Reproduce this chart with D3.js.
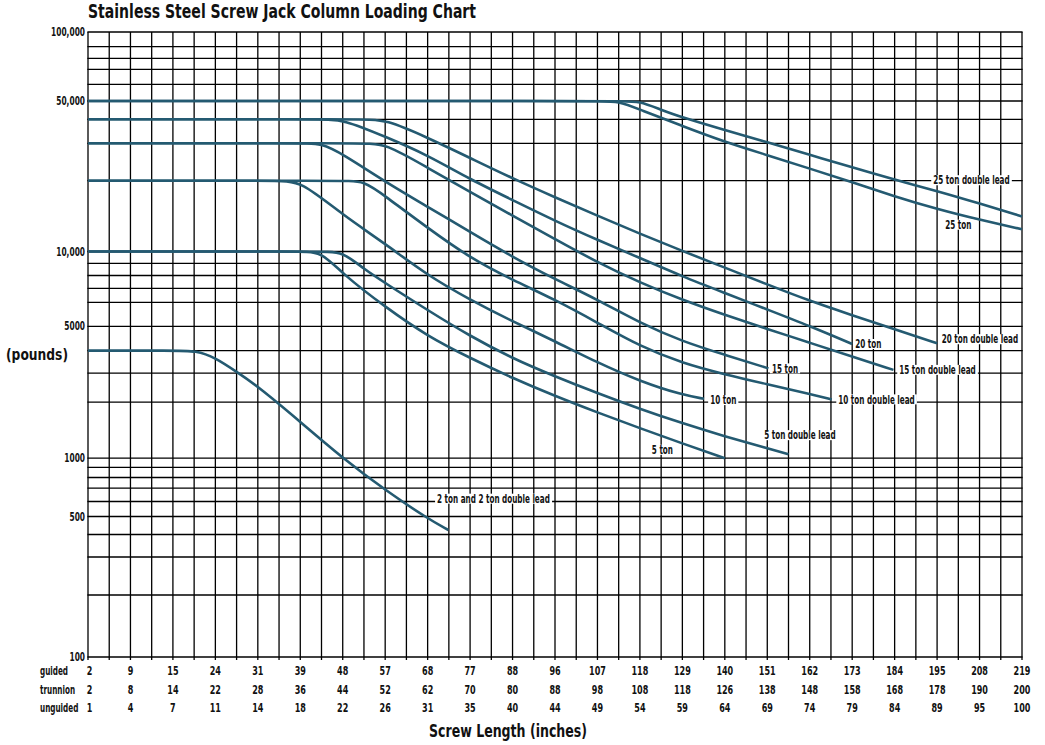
<!DOCTYPE html>
<html>
<head>
<meta charset="utf-8">
<title>Stainless Steel Screw Jack Column Loading Chart</title>
<script src="https://cdn.jsdelivr.net/npm/d3@7"></script>
<style>
  body { margin: 0; background: #fff; }
  svg text { font-family: "Liberation Sans Narrow", "DejaVu Sans Condensed", "Arial Narrow", sans-serif; fill: #111; }
</style>
</head>
<body>
<svg id="chart" width="1045" height="745"></svg>
<script>
// x axis rows: screw length (inches), one printed value every two grid columns
var guided   = [2, 9, 15, 24, 31, 39, 48, 57, 68, 77, 88, 96, 107, 118, 129, 140, 151, 162, 173, 184, 195, 208, 219];
var trunnion = [2, 8, 14, 22, 28, 36, 44, 52, 62, 70, 80, 88, 98, 108, 118, 126, 138, 148, 158, 168, 178, 190, 200];
var unguided = [1, 4, 7, 11, 14, 18, 22, 26, 31, 35, 40, 44, 49, 54, 59, 64, 69, 74, 79, 84, 89, 95, 100];
var rowNames = ["guided", "trunnion", "unguided"];

// y grid (pounds) and the labelled ticks
var yGrid = [100, 200, 300, 400, 500, 600, 700, 800, 900, 1000,
             2000, 3000, 4000, 5000, 6000, 7000, 8000, 9000, 10000,
             20000, 30000, 40000, 50000, 60000, 70000, 80000, 90000, 100000];
var yLabels = [100, 500, 1000, 5000, 10000, 50000, 100000];

// curves: guided screw length (in) -> load (lb)
var ton2Len    = [2, 15, 20, 24, 27.5, 31, 39, 48, 57, 68, 72.4];
var ton2Lbs    = [4000, 4000, 4000, 3650, 3050, 2500, 1570, 1000, 685, 487, 423];
var ton5Len    = [2, 39, 43.5, 48, 57, 68, 77, 88, 96, 107, 118, 129, 140];
var ton5Lbs    = [10000, 10000, 10000, 8100, 5790, 4560, 3640, 2800, 2180, 1760, 1450, 1200, 1000];
var ton5DLLen  = [2, 43.5, 48, 52.5, 57, 68, 77, 88, 96, 107, 118, 129, 140, 151, 156.5];
var ton5DLLbs  = [10000, 10000, 10000, 8500, 7400, 5650, 4570, 3620, 2870, 2270, 1840, 1540, 1310, 1130, 1050];
var ton10Len   = [2, 35, 39, 48, 57, 68, 77, 88, 96, 107, 118, 129, 134.6];
var ton10Lbs   = [20000, 20000, 20000, 14300, 10800, 8000, 6170, 5190, 4360, 3430, 2680, 2210, 2100];
var ton10DLLen = [2, 48, 52.5, 57, 68, 77, 88, 96, 107, 118, 129, 140, 151, 162, 167.7];
var ton10DLLbs = [20000, 20000, 20000, 17200, 12600, 9440, 7630, 6180, 5140, 4160, 3410, 2950, 2570, 2240, 2080];
var ton15Len   = [2, 39, 43.5, 48, 57, 68, 77, 88, 96, 107, 118, 129, 140, 151.3];
var ton15Lbs   = [30000, 30000, 30000, 26700, 19800, 15500, 12100, 9520, 7700, 6180, 5130, 4350, 3790, 3190];
var ton15DLLen = [2, 52.5, 57, 68, 77, 88, 96, 107, 118, 129, 140, 151, 162, 173, 183.7];
var ton15DLLbs = [30000, 30000, 30000, 23000, 17900, 14200, 11300, 9070, 7430, 6160, 5450, 4880, 4300, 3700, 3130];
var ton20Len   = [2, 43.5, 48, 57, 68, 77, 88, 96, 107, 118, 129, 140, 151, 162, 173];
var ton20Lbs   = [40000, 40000, 40000, 32500, 26400, 20300, 16550, 13500, 11200, 9440, 7920, 6650, 5680, 5010, 4250];
var ton20DLLen = [2, 52.5, 57, 68, 77, 88, 96, 107, 118, 129, 140, 151, 162, 173, 184, 195];
var ton20DLLbs = [40000, 40000, 40000, 32100, 25600, 20500, 17000, 14200, 11900, 10050, 8630, 7290, 6090, 5440, 4860, 4280];
var ton25Len   = [2, 107, 112.5, 118, 129, 140, 151, 162, 173, 184, 195, 208, 219];
var ton25Lbs   = [50000, 50000, 50000, 45000, 36900, 30500, 26400, 22800, 19700, 17150, 15150, 13650, 12430];
var ton25DLLen = [2, 112.5, 118, 123.5, 129, 140, 151, 162, 173, 184, 195, 208, 219];
var ton25DLLbs = [50000, 50000, 50000, 44800, 40900, 35100, 30400, 26500, 23100, 20200, 18100, 16000, 14100];

// curve labels: text, guided length at text start, load at text middle
var labelText = ["2 ton and 2 ton double lead", "5 ton", "5 ton double lead", "10 ton", "10 ton double lead",
                 "15 ton", "15 ton double lead", "20 ton", "20 ton double lead", "25 ton", "25 ton double lead"];
var labelLen  = [70, 121.1, 150.2, 136.2, 169.4, 152.2, 185.2, 173.8, 196.4, 197.5, 194];
var labelLbs  = [620, 1110, 1330, 2060, 2080, 3190, 3130, 4250, 4440, 13000, 20100];

var series = [
	[ton2Len, ton2Lbs], [ton5Len, ton5Lbs], [ton5DLLen, ton5DLLbs],
	[ton10Len, ton10Lbs], [ton10DLLen, ton10DLLbs], [ton15Len, ton15Lbs], [ton15DLLen, ton15DLLbs],
	[ton20Len, ton20Lbs], [ton20DLLen, ton20DLLbs], [ton25Len, ton25Lbs], [ton25DLLen, ton25DLLbs]
].map(function(s) { return s[0].map(function(d, i) { return [d, s[1][i]]; }); });

// layout
const plotLeft = 88, plotRight = 1022, plotTop = 32, plotBottom = 657;
const curveColor = "#245a71";

var svg = d3.select("#chart");

// the print uses a condensed face; narrow the local one around its anchor
function squeeze(sel, k) {
	sel.each(function() {
		var t = d3.select(this);
		var tx = +t.attr("x"), ty = +t.attr("y");
		t.attr("x", 0).attr("y", 0)
			.attr("transform", "translate(" + tx + "," + ty + ") scale(" + k + ",1)");
	});
}

// grid columns, two per printed length value
var colScale = d3.scaleLinear().domain([0, 44]).range([plotLeft, plotRight]);
var x = d3.scaleLinear()
	.domain(guided)
	.range(guided.map(function(d, i) { return colScale(2 * i); }));

// the printed log paper is not evenly spaced, so the log scale is
// pinned to where each grid line sits on the sheet
var yGridPx = [plotBottom, 595, 557, 534.5, 516.5, 501.5, 488.2, 477.5, 467.3, 458.2,
               402.2, 373.2, 350.6, 326.3, 302.3, 288.3, 275.5, 263.3, 251.5,
               180.7, 143.3, 119.3, 101, 84.3, 69.3, 58.3, 46.7, plotTop];
var y = d3.scaleLog().domain(yGrid).range(yGridPx);

// title
svg.append("text")
	.attr("x", plotLeft).attr("y", 17.5)
	.attr("font-size", 20).attr("font-weight", "bold")
	.attr("textLength", 388).attr("lengthAdjust", "spacingAndGlyphs")
	.text("Stainless Steel Screw Jack Column Loading Chart");

// grid
var grid = svg.append("g").attr("stroke", "#000").attr("stroke-width", 1.3);
grid.selectAll("line.h").data(yGrid).enter().append("line")
	.attr("class", "h")
	.attr("x1", plotLeft - 0.6).attr("x2", plotRight + 0.6)
	.attr("y1", function(d) { return y(d); }).attr("y2", function(d) { return y(d); });
grid.selectAll("line.v").data(d3.range(45)).enter().append("line")
	.attr("class", "v")
	.attr("x1", function(d) { return colScale(d); }).attr("x2", function(d) { return colScale(d); })
	.attr("y1", plotTop).attr("y2", plotBottom + 3);

// y labels
var yl = svg.selectAll("text.ylab").data(yLabels).enter().append("text")
	.attr("class", "ylab")
	.attr("x", plotLeft - 3).attr("y", function(d) { return y(d); })
	.attr("dy", "0.36em").attr("text-anchor", "end")
	.attr("font-size", 11.5).attr("font-weight", "bold")
	.text(function(d) { return d >= 10000 ? d3.format(",")(d) : d; });
squeeze(yl, 0.72);

svg.append("text")
	.attr("x", 6).attr("y", 360)
	.attr("font-size", 16).attr("font-weight", "bold")
	.attr("textLength", 62).attr("lengthAdjust", "spacingAndGlyphs")
	.text("(pounds)");

// x label rows
var rows = [guided, trunnion, unguided];
var rowBase = [675, 693.5, 712];
rows.forEach(function(vals, r) {
	var nm = svg.append("text")
		.attr("x", 40).attr("y", rowBase[r])
		.attr("font-size", 11.5).attr("font-weight", "bold")
		.text(rowNames[r]);
	squeeze(nm, 0.7);
	var nums = svg.selectAll("text.row" + r).data(vals).enter().append("text")
		.attr("class", "row" + r)
		.attr("x", function(d, i) { return colScale(2 * i) + (i === 0 ? 1.5 : 0); })
		.attr("y", rowBase[r])
		.attr("text-anchor", "middle")
		.attr("font-size", 11.5).attr("font-weight", "bold")
		.text(function(d) { return d; });
	squeeze(nums, 0.78);
});

svg.append("text")
	.attr("x", 508).attr("y", 737)
	.attr("text-anchor", "middle")
	.attr("font-size", 17).attr("font-weight", "bold")
	.attr("textLength", 158).attr("lengthAdjust", "spacingAndGlyphs")
	.text("Screw Length (inches)");

// curves
var line = d3.line()
	.x(function(d) { return x(d[0]); })
	.y(function(d) { return y(d[1]); })
	.curve(d3.curveBasis);

svg.append("g").selectAll("path").data(series).enter().append("path")
	.attr("d", line)
	.attr("fill", "none")
	.attr("stroke", curveColor)
	.attr("stroke-width", 2.6)
	.attr("stroke-linejoin", "round");

// curve labels on white boxes
var labelK = 0.7;
var labels = svg.append("g").selectAll("g").data(labelText).enter().append("g");
var lt = labels.append("text")
	.attr("x", function(d, i) { return x(labelLen[i]); })
	.attr("y", function(d, i) { return y(labelLbs[i]); })
	.attr("dy", "0.36em")
	.attr("font-size", 11.5).attr("font-weight", "bold")
	.text(function(d) { return d; });
labels.each(function(d, i) {
	var w = d3.select(this).select("text").node().getComputedTextLength() * labelK;
	d3.select(this).insert("rect", "text")
		.attr("x", x(labelLen[i]) - 2).attr("y", y(labelLbs[i]) - 5)
		.attr("width", w + 4).attr("height", 10)
		.attr("fill", "#fff");
});
squeeze(lt, labelK);
</script>
</body>
</html>
